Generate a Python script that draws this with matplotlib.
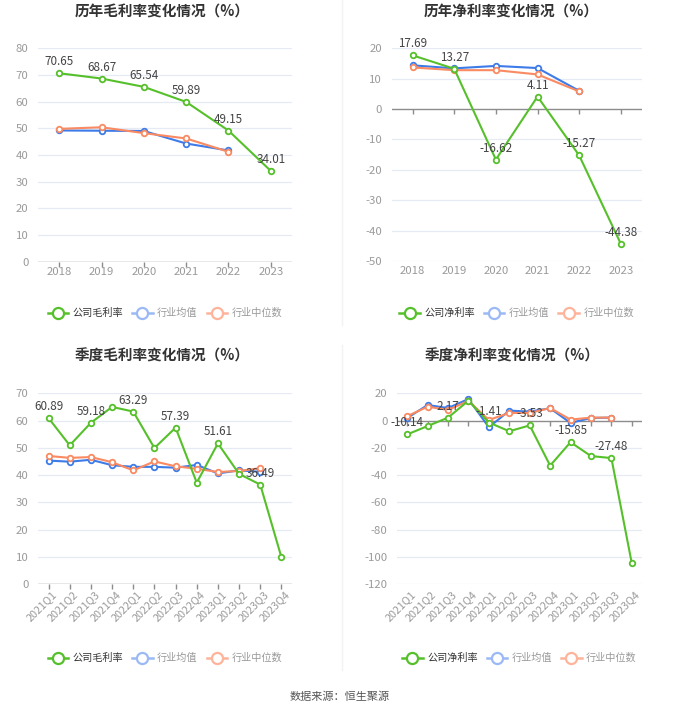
import numpy as np
import matplotlib
matplotlib.use("Agg")
import matplotlib.pyplot as plt
from matplotlib.lines import Line2D
import matplotlib.transforms as mtransforms

plt.rcParams["font.family"] = ["Noto Sans CJK SC", "DejaVu Sans"]
plt.rcParams["axes.unicode_minus"] = False

W, H = 680, 712

# ---- data ----
years = ["2018", "2019", "2020", "2021", "2022", "2023"]
gross_company = [70.65, 68.67, 65.54, 59.89, 49.15, 34.01]
gross_mean = [49.2, 49.1, 49.0, 44.3, 41.7, np.nan]
gross_median = [49.8, 50.4, 48.2, 46.2, 41.2, np.nan]

net_company = [17.69, 13.27, -16.62, 4.11, -15.27, -44.38]
net_mean = [14.4, 13.4, 14.2, 13.5, 6.0, np.nan]
net_median = [13.7, 12.8, 12.8, 11.4, 5.8, np.nan]

quarters = ["2021Q1", "2021Q2", "2021Q3", "2021Q4", "2022Q1", "2022Q2",
            "2022Q3", "2022Q4", "2023Q1", "2023Q2", "2023Q3", "2023Q4"]
q_gross_company = [60.89, 50.9, 59.18, 65.0, 63.29, 49.9, 57.39, 37.2, 51.61, 40.4, 36.49, 9.8]
q_gross_mean = [45.3, 44.9, 45.6, 43.6, 43.0, 43.0, 42.7, 43.7, 40.6, 41.7, 41.2, np.nan]
q_gross_median = [47.0, 46.3, 46.6, 44.7, 41.7, 45.0, 43.2, 42.3, 41.1, 41.5, 42.5, np.nan]

q_net_company = [-10.14, -4.0, 2.17, 14.6, -1.41, -7.8, -3.53, -33.0, -15.85, -26.0, -27.48, -104.6]
q_net_mean = [1.9, 11.4, 9.2, 15.8, -4.9, 7.3, 6.6, 9.0, -1.7, 1.9, 2.2, np.nan]
q_net_median = [3.2, 10.2, 7.8, 14.4, 0.5, 5.6, 5.6, 9.2, 0.7, 2.2, 2.2, np.nan]

GREEN = "#56c02b"
BLUE = "#3d7be8"
ORANGE = "#fa8a62"
GRID = "#e6eaf4"
AXIS = "#8c8c8c"
TICK_TXT = "#9a9a9a"
LABEL_TXT = "#444444"


def px_box(l, r, top, bottom):
    return [l / W, 1 - bottom / H, (r - l) / W, (bottom - top) / H]


fig = plt.figure(figsize=(W / 100, H / 100), dpi=100)
fig.patch.set_facecolor("white")


def draw_panel(box, title, cats, company, mean, median, yticks, label_idx,
               legend_name, rotate, title_x, title_y, legend_y):
    ax = fig.add_axes(px_box(*box))
    x = np.arange(len(cats))
    ymin, ymax = yticks[0], yticks[-1]
    ax.set_xlim(-0.5, len(cats) - 0.5)
    ax.set_ylim(ymin, ymax)

    for t in yticks:
        if t != 0:
            ax.axhline(t, color=GRID, lw=0.9, zorder=0)
    for s in ax.spines.values():
        s.set_visible(False)
    ax.axhline(0, color=AXIS, lw=1.0, zorder=1)

    # ticks sit on the zero line
    ax.spines["bottom"].set_position(("data", 0))
    ax.set_xticks(x)
    ax.tick_params(axis="x", direction="out", length=3.5, color=AXIS,
                   width=1.0, labelbottom=False)
    ax.set_yticks(yticks)
    ax.set_yticklabels([str(t) for t in yticks])
    ax.tick_params(axis="y", length=0, pad=7, labelsize=8.2, labelcolor=TICK_TXT)

    trans = mtransforms.blended_transform_factory(ax.transData, ax.transAxes)
    for i, c in enumerate(cats):
        if rotate:
            ax.annotate(c, (i, 0), xycoords=trans, xytext=(3, -5),
                        textcoords="offset pixels", rotation=45,
                        ha="right", va="top", rotation_mode="anchor",
                        fontsize=7.8, color=TICK_TXT)
        else:
            ax.annotate(c, (i, 0), xycoords=trans, xytext=(0, -5),
                        textcoords="offset pixels", ha="center", va="top",
                        fontsize=8.2, color=TICK_TXT)

    mk = dict(marker="o", markersize=4.0, markerfacecolor="white",
              markeredgewidth=1.3, lw=1.5)
    ax.plot(x, mean, color=BLUE, zorder=3, **mk)
    ax.plot(x, median, color=ORANGE, zorder=3, **mk)
    ax.plot(x, company, color=GREEN, zorder=4, **mk)

    for i in label_idx:
        v = company[i]
        ax.annotate(f"{v:.2f}", (x[i], v), xytext=(0, 5),
                    textcoords="offset pixels", ha="center", va="bottom",
                    fontsize=8.4, color=LABEL_TXT, zorder=5)

    fig.text(title_x / W, 1 - title_y / H, title, ha="center", va="center",
             fontsize=10.5, fontweight="bold", color="#333333")

    lk = dict(marker="o", markersize=8, markerfacecolor="white",
              markeredgewidth=1.6, lw=1.8)
    handles = [Line2D([], [], color=GREEN, **lk),
               Line2D([], [], color="#9bb9f4", **lk),
               Line2D([], [], color="#fdb49b", **lk)]
    cx = (box[0] + box[1]) / 2
    leg = fig.legend(handles, [legend_name, "行业均值", "行业中位数"],
                     loc="center", bbox_to_anchor=(cx / W, 1 - legend_y / H),
                     ncol=3, frameon=False, fontsize=7.3, handlelength=2.0,
                     handletextpad=0.45, columnspacing=0.9)
    for txt, col in zip(leg.get_texts(), ["#333333", "#999999", "#999999"]):
        txt.set_color(col)
    return ax


annual_idx = list(range(6))
quarter_idx = [0, 2, 4, 6, 8, 10]

draw_panel((38, 292, 48.3, 261.7), "历年毛利率变化情况（%）", years,
           gross_company, gross_mean, gross_median,
           [0, 10, 20, 30, 40, 50, 60, 70, 80], annual_idx, "公司毛利率",
           False, 162, 12, 313)
draw_panel((391.7, 641.7, 48.3, 261.0), "历年净利率变化情况（%）", years,
           net_company, net_mean, net_median,
           [-50, -40, -30, -20, -10, 0, 10, 20], annual_idx, "公司净利率",
           False, 511, 12, 313)
draw_panel((38, 292, 393.3, 584.0), "季度毛利率变化情况（%）", quarters,
           q_gross_company, q_gross_mean, q_gross_median,
           [0, 10, 20, 30, 40, 50, 60, 70], quarter_idx, "公司毛利率",
           True, 162, 356, 658)
draw_panel((397, 642, 393.3, 584.3), "季度净利率变化情况（%）", quarters,
           q_net_company, q_net_mean, q_net_median,
           [-120, -100, -80, -60, -40, -20, 0, 20], quarter_idx, "公司净利率",
           True, 512, 356, 658)

# faint divider between the two columns
fig.add_artist(Line2D([341.5 / W, 341.5 / W], [1 - 0 / H, 1 - 325 / H],
                      color="#f2f2f2", lw=1.0))
fig.add_artist(Line2D([341.5 / W, 341.5 / W], [1 - 345 / H, 1 - 670 / H],
                      color="#f2f2f2", lw=1.0))

fig.text(340 / W, 1 - 697 / H, "数据来源：恒生聚源", ha="center", va="center",
         fontsize=8, color="#555555")

fig.savefig("out.png", dpi=100, facecolor="white")
